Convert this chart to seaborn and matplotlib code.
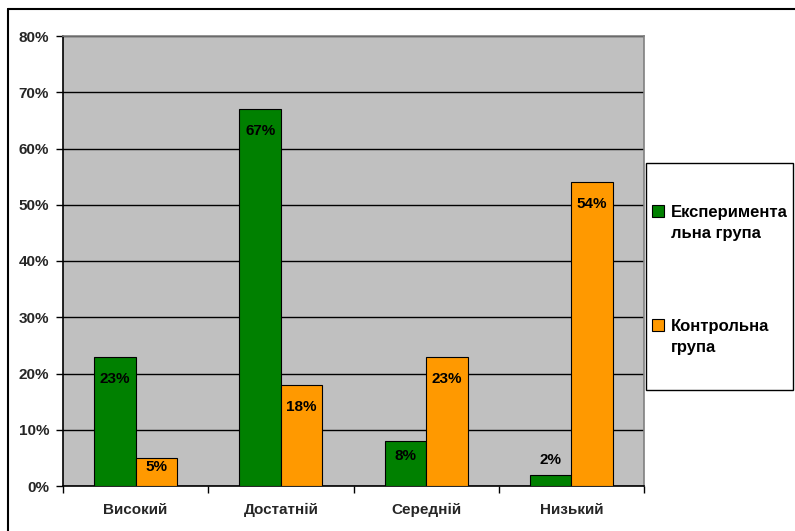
import matplotlib
matplotlib.use("Agg")
import matplotlib.pyplot as plt
import seaborn as sns
import pandas as pd
from matplotlib.lines import Line2D
from matplotlib.patches import Rectangle
from matplotlib.ticker import PercentFormatter, FixedLocator

categories = ["Високий", "Достатній", "Середній", "Низький"]
series_names = ["Експериментальна група", "Контрольна група"]
legend_labels = ["Експеримента\nльна група", "Контрольна\nгрупа"]
exp_values = [0.23, 0.67, 0.08, 0.02]
ctrl_values = [0.05, 0.18, 0.23, 0.54]
y_ticks = [0.0, 0.1, 0.2, 0.3, 0.4, 0.5, 0.6, 0.7, 0.8]
colors = ["#008000", "#FF9900"]

df = pd.DataFrame({
    "category": categories * 2,
    "series": [series_names[0]] * 4 + [series_names[1]] * 4,
    "value": exp_values + ctrl_values,
})

sns.set_theme(style="white")
plt.rcParams["font.family"] = ["Liberation Sans", "DejaVu Sans"]
plt.rcParams["font.weight"] = "bold"

W, H = 795, 531
fig = plt.figure(figsize=(W / 100, H / 100), dpi=100)
ax = fig.add_axes([63 / W, 1 - 486 / H, (644 - 63) / W, (486 - 36) / H])
ax.set_facecolor("#C0C0C0")

sns.barplot(data=df, x="category", y="value", hue="series", order=categories,
            hue_order=series_names, palette=colors, width=0.57, gap=0,
            edgecolor="black", linewidth=0.8, saturation=1, ax=ax, legend=False, zorder=3)

ax.set_ylim(0, 0.8)
ax.set_xlim(-0.5, 3.5)
ax.yaxis.set_major_locator(FixedLocator(y_ticks))
ax.yaxis.set_major_formatter(PercentFormatter(1.0, decimals=0))
ax.grid(axis="y", color="black", linewidth=1, zorder=1)
ax.set_axisbelow(True)
ax.set_xlabel("")
ax.set_ylabel("")

for lbl in ax.get_yticklabels():
    lbl.set_fontsize(11)
    lbl.set_fontweight("bold")
ax.tick_params(axis="y", direction="out", length=5, width=1, color="black", pad=5, left=True)
ax.tick_params(axis="x", which="major", length=0, pad=12.5, labelsize=11, bottom=True)
for lbl in ax.get_xticklabels():
    lbl.set_fontweight("bold")
ax.set_xticks([-0.5, 0.5, 1.5, 2.5, 3.5], minor=True)
ax.tick_params(axis="x", which="minor", direction="out", length=5, width=1, color="black", bottom=True)

for side in ["left", "bottom"]:
    ax.spines[side].set_color("black")
    ax.spines[side].set_linewidth(1.2)
for side in ["top", "right"]:
    ax.spines[side].set_color("#808080")
    ax.spines[side].set_linewidth(1.2)

# value labels
px = 0.72
h_per_unit = 450 / 0.8
for container in ax.containers:
    for bar in container:
        v = bar.get_height()
        xc = bar.get_x() + bar.get_width() / 2
        hpx = v * h_per_unit
        if hpx < 20:
            off = 15
        else:
            off = -min(22, hpx * 0.33)
        ax.annotate(f"{v * 100:.0f}%", (xc, v), xytext=(0, off * px),
                    textcoords="offset points", ha="center", va="center",
                    fontsize=11, fontweight="bold", color="black", zorder=5)

# legend (frame + entries)
fig.add_artist(Rectangle((646 / W, 1 - 390 / H), (793 - 646) / W, (390 - 163) / H,
                         transform=fig.transFigure, facecolor="white", edgecolor="black",
                         linewidth=1))
entry_y = [211, 325]
for c, lab, yy in zip(colors, legend_labels, entry_y):
    fig.add_artist(Rectangle((652 / W, 1 - (yy + 6) / H), 12 / W, 12 / H,
                             transform=fig.transFigure, facecolor=c, edgecolor="black",
                             linewidth=0.8))
    fig.text(671 / W, 1 - (yy + 12) / H, lab, ha="left", va="center",
             fontsize=12, fontweight="bold", linespacing=1.45, color="black")

# figure border lines (top and left)
fig.add_artist(Line2D([8 / W, 1.0], [1 - 9 / H, 1 - 9 / H], color="black", linewidth=1.5,
                      transform=fig.transFigure))
fig.add_artist(Line2D([8 / W, 8 / W], [1 - 9 / H, 0.0], color="black", linewidth=1.5,
                      transform=fig.transFigure))

fig.savefig("out.png", dpi=100, facecolor="white")
